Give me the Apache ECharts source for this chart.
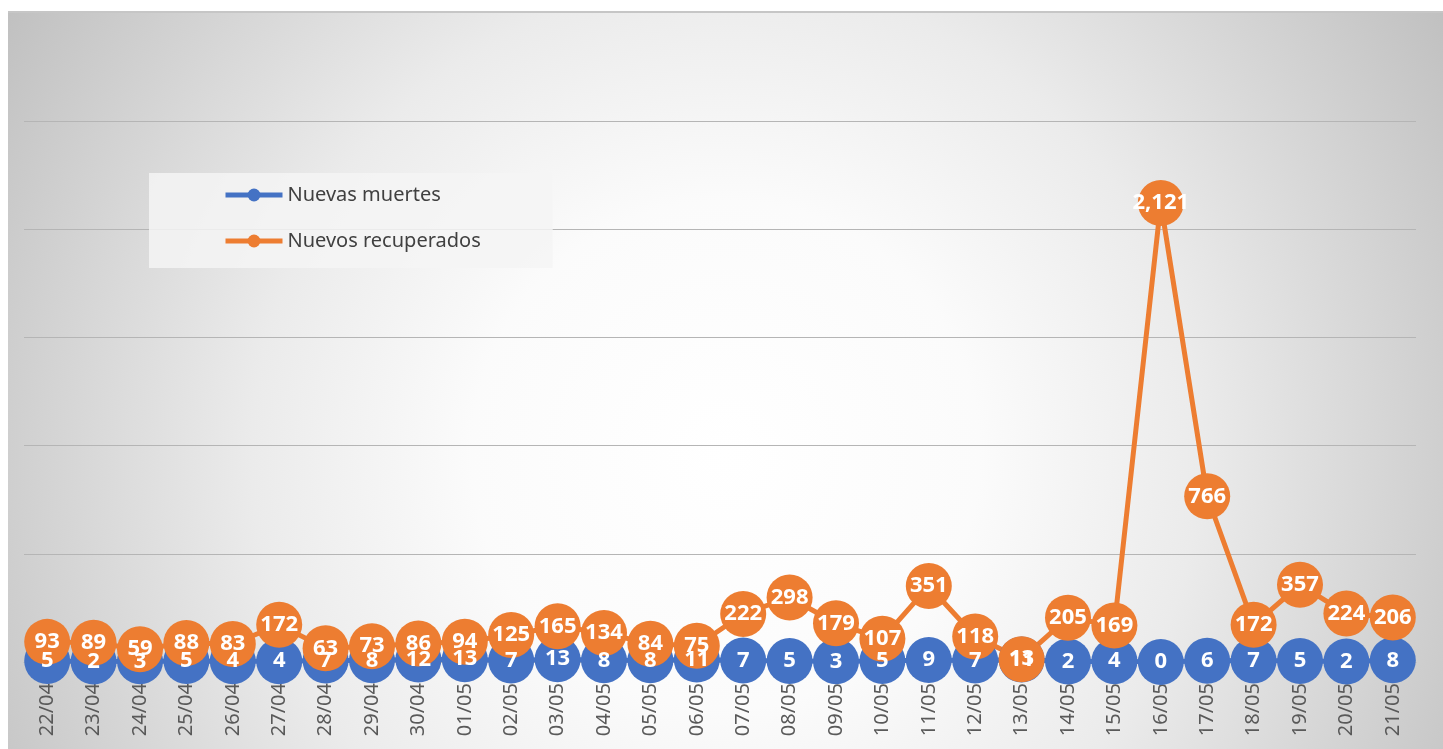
<!DOCTYPE html>
<html>
<head>
<meta charset="utf-8">
<script src="https://cdn.jsdelivr.net/npm/echarts@6/dist/echarts.min.js"></script>
<style>
  html, body { margin: 0; padding: 0; background: #fff; width: 1443px; height: 749px; overflow: hidden; }
  #chart { position: absolute; left: 8px; top: 11px; width: 1435px; height: 738px; border-top: 2px solid #c6c6c6; box-sizing: border-box; }
</style>
</head>
<body>
<div id="chart"></div>
<script>
// fechas (eje X)
const dates = ['22/04', '23/04', '24/04', '25/04', '26/04', '27/04', '28/04', '29/04', '30/04', '01/05',
  '02/05', '03/05', '04/05', '05/05', '06/05', '07/05', '08/05', '09/05', '10/05', '11/05',
  '12/05', '13/05', '14/05', '15/05', '16/05', '17/05', '18/05', '19/05', '20/05', '21/05']

const nuevasMuertes = [5, 2, 3, 5, 4, 4, 7, 8, 12, 13, 7, 13, 8, 8, 11, 7, 5, 3, 5, 9,
  7, 11, 2, 4, 0, 6, 7, 5, 2, 8]

const nuevosRecuperados = [93, 89, 59, 88, 83, 172, 63, 73, 86, 94, 125, 165, 134, 84, 75, 222, 298, 179, 107, 351,
  118, 13, 205, 169, 2121, 766, 172, 357, 224, 206]

const yTicks = [0, 500, 1000, 1500, 2000, 2500]

const BLUE = '#4472C4'
const ORANGE = '#ED7D31'

const chart = echarts.init(document.getElementById('chart'))

function lineSeries(name, data, color) {
  return {
    name,
    type: 'line',
    data,
    symbol: 'circle',
    symbolSize: 46,
    showAllSymbol: true,
    lineStyle: { width: 5, color },
    itemStyle: { color },
    label: {
      show: true,
      position: 'inside',
      color: '#fff',
      fontFamily: 'Noto Sans',
      fontWeight: 'bold',
      fontSize: 22,
      formatter: (p) => p.value.toLocaleString('en-US'),
    },
    emphasis: { disabled: true },
    animation: false,
  }
}

chart.setOption({
  backgroundColor: {
    type: 'radial',
    x: 0.5,
    y: 0.6,
    r: 1.15,
    colorStops: [
      { offset: 0, color: '#ffffff' },
      { offset: 0.3, color: '#fbfbfb' },
      { offset: 0.56, color: '#ebebeb' },
      { offset: 1, color: '#c0c0c0' },
    ],
  },
  textStyle: { fontFamily: 'Noto Sans' },
  legend: {
    orient: 'vertical',
    left: 141,
    top: 160,
    padding: [12, 72, 17, 74],
    itemGap: 26,
    itemWidth: 57,
    itemHeight: 16,
    lineStyle: { width: 5 },
    backgroundColor: 'rgba(245,245,245,0.85)',
    textStyle: { fontFamily: 'Noto Sans', fontSize: 20, color: '#404040' },
    data: ['Nuevas muertes', 'Nuevos recuperados'],
  },
  grid: { left: 16, right: 27, top: 108, bottom: 87, containLabel: false },
  xAxis: {
    type: 'category',
    data: dates,
    boundaryGap: true,
    axisLine: { show: true, lineStyle: { color: '#b5b5b5', width: 1 } },
    axisTick: { show: false },
    axisLabel: {
      interval: 0,
      rotate: 90,
      margin: 21,
      color: '#595959',
      fontFamily: 'Noto Sans',
      fontSize: 20,
    },
  },
  yAxis: {
    type: 'value',
    min: yTicks[0],
    max: yTicks[yTicks.length - 1],
    interval: yTicks[1] - yTicks[0],
    axisLabel: { show: false },
    axisLine: { show: false },
    axisTick: { show: false },
    splitLine: { show: true, lineStyle: { color: '#b5b5b5', width: 1 } },
  },
  series: [
    lineSeries('Nuevas muertes', nuevasMuertes, BLUE),
    lineSeries('Nuevos recuperados', nuevosRecuperados, ORANGE),
  ],
})
</script>
</body>
</html>
